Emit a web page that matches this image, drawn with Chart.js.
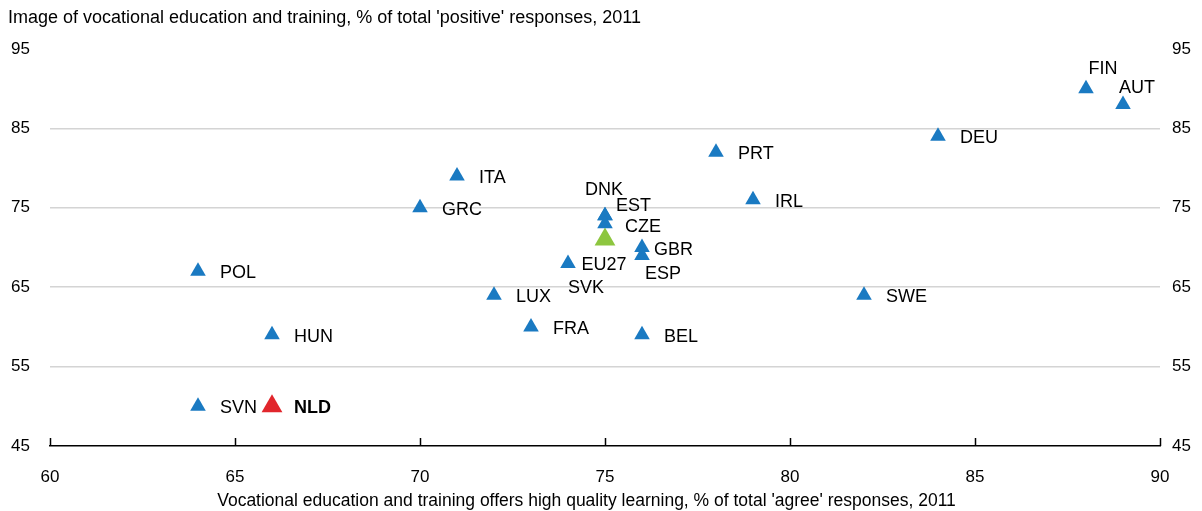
<!DOCTYPE html>
<html>
<head>
<meta charset="utf-8">
<script src="https://cdn.jsdelivr.net/npm/chart.js@4"></script>
<style>
  html, body { margin: 0; padding: 0; background: #fff; }
  #wrap { width: 1202px; height: 511px; }
</style>
</head>
<body>
<div id="wrap"><canvas id="grafico" width="1202" height="511"></canvas></div>
<script>
// Datos
const paises = ['FIN', 'AUT', 'DEU', 'PRT', 'ITA', 'IRL', 'GRC', 'DNK', 'EST', 'CZE', 'GBR', 'ESP', 'SVK', 'POL', 'LUX', 'SWE', 'FRA', 'HUN', 'BEL', 'SVN'];
const calidad = [88, 89, 84, 78, 71, 79, 70, 75, 75, 75, 76, 76, 74, 64, 72, 82, 73, 66, 76, 64];
const imagen = [90, 88, 84, 82, 79, 76, 75, 74, 74, 73, 70, 69, 68, 67, 64, 64, 60, 59, 59, 50];
const eu27 = { nombre: 'EU27', x: 75, y: 71 };
const nld = { nombre: 'NLD', x: 66, y: 50 };
const ticksX = [60, 65, 70, 75, 80, 85, 90];
const ticksY = [45, 55, 65, 75, 85, 95];

const tituloY = "Image of vocational education and training, % of total 'positive' responses, 2011";
const tituloX = "Vocational education and training offers high quality learning, % of total 'agree' responses, 2011";

// desplazamiento de etiquetas (px) cuando no van a la derecha
const ajustes = {
  FIN: [17, -20, 'center'], AUT: [14, -17, 'center'], DNK: [-1, -26, 'center'],
  EST: [11, -10, 'left'], CZE: [20, 3, 'left'], GBR: [12, 3, 'left'],
  ESP: [21, 19, 'center'], SVK: [18, 25, 'center'], EU27: [-1, 25, 'center']
};

const fuente = "'Liberation Sans', Arial, sans-serif";

const etiquetas = {
  id: 'etiquetas',
  afterDraw(chart) {
    const ctx = chart.ctx;
    const x = chart.scales.x;
    const area = chart.chartArea;
    ctx.save();
    // marcas del eje x hacia arriba
    ctx.strokeStyle = '#000';
    ctx.lineWidth = 1.5;
    ticksX.forEach(v => {
      const px = Math.round(x.getPixelForValue(v)) + 0.5;
      ctx.beginPath();
      ctx.moveTo(px, area.bottom);
      ctx.lineTo(px, area.bottom - 8);
      ctx.stroke();
    });
    // titulos de los ejes
    ctx.fillStyle = '#000';
    ctx.font = '18px ' + fuente;
    ctx.textAlign = 'left';
    ctx.textBaseline = 'middle';
    ctx.fillText(tituloY, 8, 18);
    ctx.font = '17.5px ' + fuente;
    ctx.textAlign = 'center';
    ctx.fillText(tituloX, x.getPixelForValue(74.5), 501);
    // nombres de paises
    chart.data.datasets.forEach((ds, i) => {
      const meta = chart.getDatasetMeta(i);
      meta.data.forEach((pt, j) => {
        const nombre = ds.nombres[j];
        const a = ajustes[nombre] || [22, 2, 'left'];
        ctx.font = (nombre === 'NLD' ? 'bold ' : '') + '18px ' + fuente;
        ctx.textAlign = a[2];
        ctx.fillText(nombre, pt.x + a[0], pt.y + a[1]);
      });
    });
    ctx.restore();
  }
};

const ctx = document.getElementById('grafico').getContext('2d');
new Chart(ctx, {
  type: 'scatter',
  data: {
    datasets: [
      {
        nombres: paises,
        data: paises.map((p, i) => ({ x: calidad[i], y: imagen[i] })),
        pointStyle: 'triangle',
        radius: 9,
        backgroundColor: '#1a7ac2',
        borderColor: '#1a7ac2',
        borderWidth: 0
      },
      {
        nombres: [eu27.nombre],
        data: [{ x: eu27.x, y: eu27.y }],
        pointStyle: 'triangle',
        radius: 12,
        backgroundColor: '#8dc63f',
        borderColor: '#8dc63f',
        borderWidth: 0
      },
      {
        nombres: [nld.nombre],
        data: [{ x: nld.x, y: nld.y }],
        pointStyle: 'triangle',
        radius: 12,
        backgroundColor: '#e1262c',
        borderColor: '#e1262c',
        borderWidth: 0
      }
    ]
  },
  options: {
    responsive: false,
    animation: false,
    layout: { padding: { top: 49, left: 0, right: 0, bottom: 0 } },
    plugins: { legend: { display: false }, tooltip: { enabled: false } },
    scales: {
      x: {
        type: 'linear',
        min: 60, max: 90,
        afterBuildTicks: s => { s.ticks = ticksX.map(v => ({ value: v })); },
        afterFit: s => { s.height = 65; },
        grid: { display: false, drawTicks: false },
        border: { display: true, color: '#000', width: 1.5 },
        ticks: { color: '#000', padding: 21, font: { family: fuente, size: 17 } }
      },
      y: {
        position: 'left',
        min: 45, max: 95,
        afterBuildTicks: s => { s.ticks = ticksY.map(v => ({ value: v })); },
        afterFit: s => { s.width = 50; },
        grid: {
          drawTicks: false,
          color: c => [55, 65, 75, 85].includes(c.tick.value) ? '#d4d4d4' : 'rgba(0,0,0,0)',
          lineWidth: 1.5
        },
        border: { display: false },
        ticks: { color: '#000', padding: 20, font: { family: fuente, size: 17 } }
      },
      y2: {
        position: 'right',
        min: 45, max: 95,
        afterBuildTicks: s => { s.ticks = ticksY.map(v => ({ value: v })); },
        afterFit: s => { s.width = 42; },
        grid: { display: false, drawTicks: false },
        border: { display: false },
        ticks: { color: '#000', padding: 12, font: { family: fuente, size: 17 } }
      }
    }
  },
  plugins: [etiquetas]
});
</script>
</body>
</html>
